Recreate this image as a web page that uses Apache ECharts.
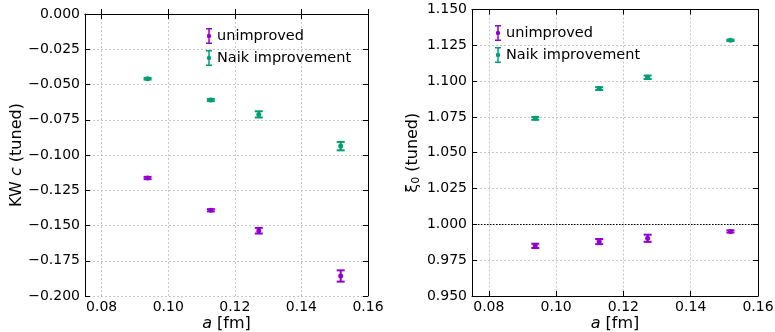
<html>
<head>
<meta charset="utf-8">
<script src="https://cdn.jsdelivr.net/npm/echarts@6/dist/echarts.min.js"></script>
<style>
  html, body { margin: 0; padding: 0; background: #fff; }
  #main { width: 775px; height: 332px; }
</style>
</head>
<body>
<div id="main"></div>
<script>
// lattice spacings a [fm]
var aVals = [0.0938, 0.1128, 0.1272, 0.1518];
var xTicks = [0.08, 0.10, 0.12, 0.14, 0.16];

// KW c (tuned)
var kwUnimp = [-0.1163, -0.1392, -0.1537, -0.1858];
var kwUnimpErr = [0.0008, 0.0008, 0.0020, 0.0040];
var kwNaik = [-0.0459, -0.0610, -0.0712, -0.0937];
var kwNaikErr = [0.0006, 0.0008, 0.0022, 0.0030];

// xi_0 (tuned)
var xiUnimp = [0.9850, 0.9880, 0.9903, 0.9951];
var xiUnimpErr = [0.0015, 0.0018, 0.0025, 0.0008];
var xiNaik = [1.0740, 1.0948, 1.1027, 1.1285];
var xiNaikErr = [0.0010, 0.0010, 0.0012, 0.0005];

var PURPLE = '#9400d3';
var GREEN = '#009e73';
var FONT = 'DejaVu Sans';

function rows(vals, errs) {
  return aVals.map(function (a, i) { return [a, vals[i], errs[i]]; });
}

function renderErr(params, api) {
  var x = api.value(0), y = api.value(1), e = api.value(2);
  var top = api.coord([x, y + e]);
  var bot = api.coord([x, y - e]);
  var c = api.coord([x, y]);
  var color = api.visual('color');
  var cap = 4;
  var st = { stroke: color, lineWidth: 2 };
  return {
    type: 'group',
    children: [
      { type: 'line', shape: { x1: top[0], y1: top[1], x2: bot[0], y2: bot[1] }, style: st },
      { type: 'line', shape: { x1: top[0] - cap, y1: top[1], x2: top[0] + cap, y2: top[1] }, style: st },
      { type: 'line', shape: { x1: bot[0] - cap, y1: bot[1], x2: bot[0] + cap, y2: bot[1] }, style: st },
      { type: 'circle', shape: { cx: c[0], cy: c[1], r: 2.5 }, style: { fill: color } }
    ]
  };
}

function errSeries(name, idx, vals, errs, color) {
  return {
    name: name,
    type: 'custom',
    xAxisIndex: idx * 2,
    yAxisIndex: idx * 2,
    renderItem: renderErr,
    itemStyle: { color: color },
    encode: { x: 0, y: 1 },
    data: rows(vals, errs),
    z: 5
  };
}

var errIcon = 'path://M0,0H6V1.5H3.75V14.5H6V16H0V14.5H2.25V1.5H0Z M3,5.8A2.2,2.2 0 1 1 3,10.2A2.2,2.2 0 1 1 3,5.8Z';

function minusFmt(v) {
  return (v < 0 ? '\u2212' : '') + Math.abs(v).toFixed(3);
}

function xAxes(grid) {
  return [
    {
      type: 'value', gridIndex: grid, min: 0.075, max: 0.16,
      name: '{i|a} [fm]', nameLocation: 'middle', nameGap: 20, nameMoveOverlap: false,
      nameTextStyle: { color: '#000', fontFamily: FONT, fontSize: 16,
        rich: { i: { fontStyle: 'italic', fontFamily: FONT, fontSize: 16, color: '#000' } } },
      axisLine: { lineStyle: { color: '#000', width: 1 } },
      axisTick: { inside: true, length: 5, customValues: xTicks, lineStyle: { color: '#000' } },
      axisLabel: { customValues: xTicks, color: '#000', fontFamily: FONT, fontSize: 14, margin: 4,
        formatter: function (v) { return v.toFixed(2); } },
      splitLine: { show: true, lineStyle: { color: '#c8c8c8', type: [2, 2] } }
    },
    {
      type: 'value', gridIndex: grid, min: 0.075, max: 0.16, position: 'top',
      axisLine: { lineStyle: { color: '#000', width: 1 } },
      axisTick: { inside: true, length: 5, customValues: xTicks, lineStyle: { color: '#000' } },
      axisLabel: { show: false, customValues: xTicks },
      splitLine: { show: false }
    }
  ];
}

function yAxes(grid, min, max, name, gap, rich) {
  return [
    {
      type: 'value', gridIndex: grid, min: min, max: max, interval: 0.025,
      name: name, nameLocation: 'middle', nameGap: gap, nameMoveOverlap: false,
      nameTextStyle: { color: '#000', fontFamily: FONT, fontSize: 16, rich: rich },
      axisLine: { lineStyle: { color: '#000', width: 1 } },
      axisTick: { inside: true, length: 5, lineStyle: { color: '#000' } },
      axisLabel: { color: '#000', fontFamily: FONT, fontSize: 14, margin: 5, formatter: minusFmt },
      splitLine: { show: true, lineStyle: { color: '#c8c8c8', type: [2, 2] } }
    },
    {
      type: 'value', gridIndex: grid, min: min, max: max, interval: 0.025, position: 'right',
      axisLine: { lineStyle: { color: '#000', width: 1 } },
      axisTick: { inside: true, length: 5, lineStyle: { color: '#000' } },
      axisLabel: { show: false },
      splitLine: { show: false }
    }
  ];
}

var chart = echarts.init(document.getElementById('main'));

var naikRight = errSeries('Naik improvement', 1, xiNaik, xiNaikErr, GREEN);
naikRight.markLine = {
  silent: true, symbol: 'none', label: { show: false },
  lineStyle: { color: '#000', type: [1.5, 1.5], width: 1 },
  data: [{ yAxis: 1.0 }]
};

chart.setOption({
  animation: false,
  grid: [
    { left: 85, top: 14, width: 283, height: 282, outerBoundsMode: 'none', containLabel: false },
    { left: 472, top: 9.5, width: 286, height: 286.5, outerBoundsMode: 'none', containLabel: false }
  ],
  legend: [
    {
      left: 201, top: 23, orient: 'vertical', itemGap: 6, itemWidth: 6, itemHeight: 16,
      icon: errIcon, textStyle: { color: '#000', fontFamily: FONT, fontSize: 14.5 },
      data: ['unimproved', 'Naik improvement'], selectedMode: false
    },
    {
      left: 490, top: 20, orient: 'vertical', itemGap: 6, itemWidth: 6, itemHeight: 16,
      icon: errIcon, textStyle: { color: '#000', fontFamily: FONT, fontSize: 14.5 },
      data: ['unimproved', 'Naik improvement'], selectedMode: false
    }
  ],
  xAxis: xAxes(0).concat(xAxes(1)),
  yAxis: yAxes(0, -0.2, 0, '{n|KW }{i|c}{n| (tuned)}', 60, {
    n: { fontFamily: FONT, fontSize: 16, color: '#000' },
    i: { fontFamily: FONT, fontSize: 16, fontStyle: 'italic', color: '#000' }
  }).concat(yAxes(1, 0.95, 1.15, '{n|\u03be}{s|0}{n| (tuned)}', 50, {
    n: { fontFamily: FONT, fontSize: 16, color: '#000' },
    s: { fontFamily: FONT, fontSize: 11, color: '#000', padding: [7, 0, 0, 0] }
  })),
  series: [
    errSeries('unimproved', 0, kwUnimp, kwUnimpErr, PURPLE),
    errSeries('Naik improvement', 0, kwNaik, kwNaikErr, GREEN),
    errSeries('unimproved', 1, xiUnimp, xiUnimpErr, PURPLE),
    naikRight
  ]
});
</script>
</body>
</html>
